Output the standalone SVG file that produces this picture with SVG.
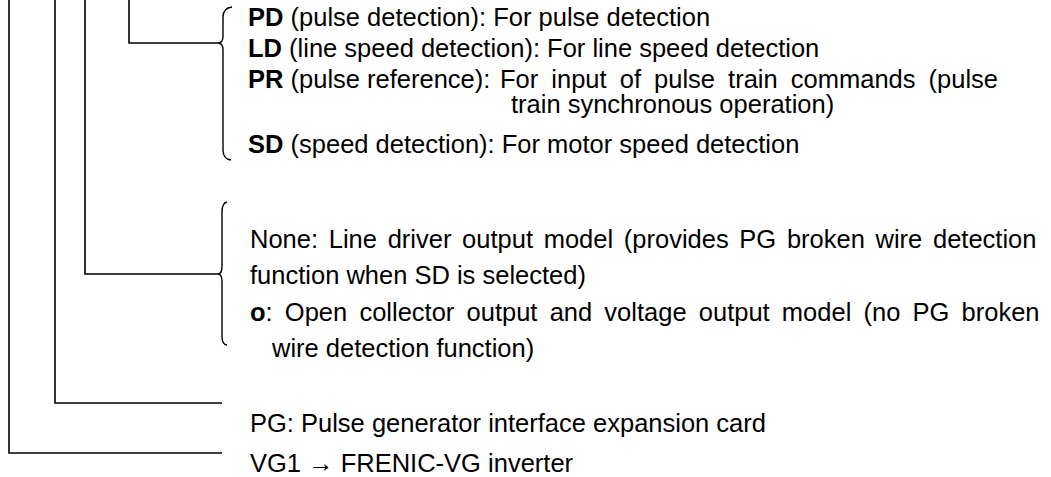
<svg xmlns="http://www.w3.org/2000/svg" width="1051" height="477" viewBox="0 0 1051 477">
<style>
.ln{fill:none;stroke:#000;stroke-width:1.6}
.br{fill:none;stroke:#000;stroke-width:1.4}
text{font-family:"Liberation Sans",Arial,sans-serif;font-size:25.5px;fill:#000}
.b{font-weight:bold}
</style>
<rect width="1051" height="477" fill="#fff"/>
<g id="connectors">
<path class="ln" d="M9,0 V453 H222"/>
<path class="ln" d="M55,0 V403 H222"/>
<path class="ln" d="M85,0 V274 H218"/>
<path class="ln" d="M129,0 V43 H218"/>
</g>
<g id="brace-options">
<path class="br" d="M232,7 Q223,8 223,17 V36 Q223,43 218,43 Q223,43 223,50 V150 Q223,159 231,160"/>
<text x="248" y="26"><tspan class="b">PD</tspan> (pulse detection): For pulse detection</text>
<text x="248" y="57"><tspan class="b">LD</tspan> (line speed detection): For line speed detection</text>
<text x="248" y="88"><tspan class="b">PR</tspan> (pulse reference):</text>
<text><tspan x="500" y="88" word-spacing="6">For input of pulse train commands (pulse</tspan><tspan x="511" y="113">train synchronous operation)</tspan></text>
<text x="248" y="153"><tspan class="b">SD</tspan> (speed detection): For motor speed detection</text>
</g>
<g id="brace-output">
<path class="br" d="M227,202 Q222,203 222,212 V266 Q222,274 218,274 Q222,274 222,282 V336 Q222,345 227,345"/>
<text x="250" y="248" word-spacing="3.6">None: Line driver output model (provides PG broken wire detection</text>
<text x="250" y="284">function when SD is selected)</text>
<text x="250" y="321" word-spacing="5.1"><tspan class="b">o</tspan>: Open collector output and voltage output model (no PG broken</text>
<text x="272" y="357">wire detection function)</text>
</g>
<g id="pg">
<text x="250" y="432">PG: Pulse generator interface expansion card</text>
</g>
<g id="vg1">
<text x="250" y="472">VG1 → FRENIC-VG inverter</text>
</g>
</svg>
